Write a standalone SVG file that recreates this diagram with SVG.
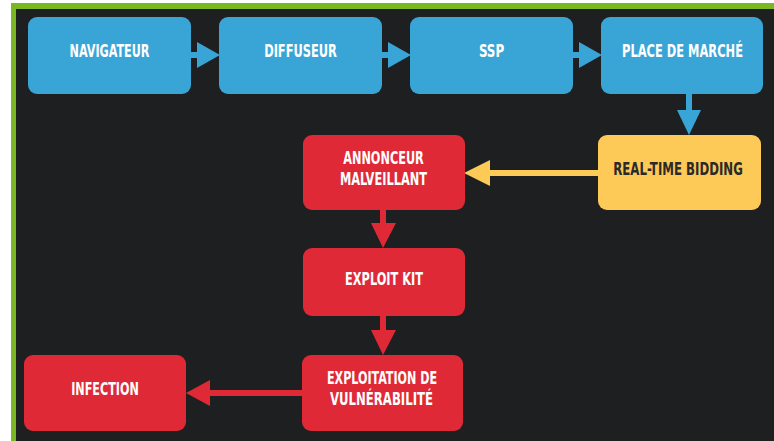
<svg xmlns="http://www.w3.org/2000/svg" width="774" height="441" viewBox="0 0 774 441">
  <style>
    .blue { fill: #39a5d7; }
    .yellow { fill: #fdc957; }
    .red { fill: #e02936; }
    .lbl { font-family: "DejaVu Sans Condensed", "DejaVu Sans", sans-serif; font-weight: bold; font-size: 18px; fill: #ffffff; text-anchor: middle; }
    .dark { fill: #2a2a28; }
  </style>
  <!-- frame -->
  <rect x="0" y="0" width="774" height="441" fill="#ffffff"/>
  <rect x="11" y="3" width="763" height="438" fill="#7ab723"/>
  <rect x="16" y="9" width="758" height="432" fill="#1e1f21"/>

  <g id="connectors">
    <!-- blue: top row -->
    <g class="blue">
      <rect x="190" y="52" width="10" height="6"/>
      <polygon points="197,42 220,55 197,68"/>
      <rect x="381" y="52" width="10" height="6"/>
      <polygon points="388,42 411,55 388,68"/>
      <rect x="572" y="52" width="10" height="6"/>
      <polygon points="579,42 602,55 579,68"/>
      <rect x="686" y="93" width="6" height="19"/>
      <polygon points="677,110 701,110 689,135"/>
    </g>
    <!-- yellow: bidding to advertiser -->
    <g class="yellow">
      <rect x="488" y="170" width="112" height="6"/>
      <polygon points="490,160 464,173 490,186"/>
    </g>
    <!-- red: attack chain -->
    <g class="red">
      <rect x="380" y="209" width="6" height="16"/>
      <polygon points="371,223 396,223 383,248"/>
      <rect x="380" y="315" width="6" height="17"/>
      <polygon points="371,330 396,330 383,355"/>
      <rect x="208" y="390" width="96" height="6"/>
      <polygon points="210,380 186,393 210,406"/>
    </g>
  </g>

  <!-- labels are set in a condensed face, squeezed horizontally to 72% -->
  <g id="navigateur">
    <rect class="blue" x="28" y="17" width="163" height="77" rx="9"/>
    <text class="lbl" transform="translate(109.5 57) scale(0.72 1)" textLength="111" lengthAdjust="spacingAndGlyphs">NAVIGATEUR</text>
  </g>
  <g id="diffuseur">
    <rect class="blue" x="219" y="17" width="163" height="77" rx="9"/>
    <text class="lbl" transform="translate(300.5 57) scale(0.72 1)" textLength="101" lengthAdjust="spacingAndGlyphs">DIFFUSEUR</text>
  </g>
  <g id="ssp">
    <rect class="blue" x="410" y="17" width="163" height="77" rx="9"/>
    <text class="lbl" transform="translate(491.5 57) scale(0.72 1)" textLength="35" lengthAdjust="spacingAndGlyphs">SSP</text>
  </g>
  <g id="place-de-marche">
    <rect class="blue" x="601" y="17" width="162" height="77" rx="9"/>
    <text class="lbl" transform="translate(682.5 57) scale(0.72 1)" textLength="168" lengthAdjust="spacingAndGlyphs">PLACE DE MARCHÉ</text>
  </g>
  <g id="real-time-bidding">
    <rect class="yellow" x="598" y="135" width="163" height="75" rx="9"/>
    <text class="lbl dark" transform="translate(678 175) scale(0.72 1)" textLength="180" lengthAdjust="spacingAndGlyphs">REAL-TIME BIDDING</text>
  </g>
  <g id="annonceur-malveillant">
    <rect class="red" x="303" y="135" width="162" height="75" rx="9"/>
    <text class="lbl" transform="translate(383.5 164) scale(0.72 1)" textLength="112" lengthAdjust="spacingAndGlyphs">ANNONCEUR</text>
    <text class="lbl" transform="translate(383.5 185) scale(0.72 1)" textLength="121" lengthAdjust="spacingAndGlyphs">MALVEILLANT</text>
  </g>
  <g id="exploit-kit">
    <rect class="red" x="303" y="248" width="162" height="68" rx="9"/>
    <text class="lbl" transform="translate(384 285) scale(0.72 1)" textLength="108" lengthAdjust="spacingAndGlyphs">EXPLOIT KIT</text>
  </g>
  <g id="exploitation-de-vulnerabilite">
    <rect class="red" x="302" y="355" width="161" height="76" rx="9"/>
    <text class="lbl" transform="translate(382 384) scale(0.72 1)" textLength="153" lengthAdjust="spacingAndGlyphs">EXPLOITATION DE</text>
    <text class="lbl" transform="translate(381.5 405) scale(0.72 1)" textLength="143" lengthAdjust="spacingAndGlyphs">VULNÉRABILITÉ</text>
  </g>
  <g id="infection">
    <rect class="red" x="24" y="355" width="162" height="76" rx="9"/>
    <text class="lbl" transform="translate(105 395) scale(0.72 1)" textLength="94" lengthAdjust="spacingAndGlyphs">INFECTION</text>
  </g>
</svg>
